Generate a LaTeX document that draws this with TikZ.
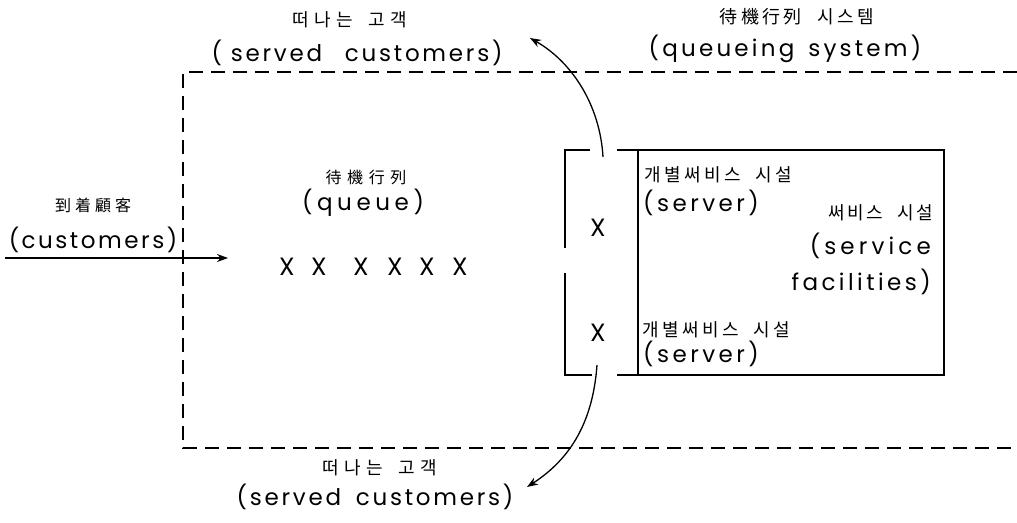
\documentclass[tikz,border=0pt]{standalone}
\usepackage{fontspec}
\setmainfont{Poppins}
\newfontfamily\kor{Noto Sans CJK KR}
\usetikzlibrary{arrows.meta, positioning}

\begin{document}
\begin{tikzpicture}[
  x=1pt, y=-1pt,
  >={Stealth[length=11pt, width=8pt]},
  en/.style={font=\fontsize{23}{27}\selectfont\addfontfeature{LetterSpace=#1},
             inner sep=1pt},
  en/.default=14,
  kr/.style={font=\kor\fontsize{18}{21}\selectfont\addfontfeature{LetterSpace=#1},
             inner sep=1pt},
  kr/.default=30,
  krs/.style={font=\kor\fontsize{16}{19}\selectfont\addfontfeature{LetterSpace=#1},
              inner sep=1pt},
  krs/.default=25,
  cust/.style={font=\fontsize{25}{27}\selectfont, inner sep=0pt},
  sysline/.style={line width=1.8pt, dash pattern=on 14pt off 8pt},
  boxline/.style={line width=1.6pt},
  flow/.style={->, line width=1.3pt},
]
\useasboundingbox (0,0) rectangle (1017,522);

% ====================== queueing system boundary =======================
\draw[sysline] (1017,72) -- (183,72) -- (183,448) -- (1017,448);
\node[kr=18] (syskr) at (797,17) {待機行列\hspace{0.9em}시스템};
\node[en] (syslbl) at (785,49) {(queueing\hspace{0.2em} system)};

% ====================== arrivals ========================================
\node[krs] (arrkr) at (93,205) {到着顧客};
\node[en=11] (arrlbl) at (93,240) {(customers)};
\coordinate (src) at (5,258);
\coordinate (qin) at (228,258);
\draw[flow] (src) -- (qin);

% ====================== queue ===========================================
\node[krs=35] (qkr) at (366,177) {待機行列};
\node[en=20] (qlbl) at (363,203) {(queue)};
\foreach \i/\x in {1/287,2/319,3/361,4/395,5/427,6/460}
  \node[cust] (q\i) at (\x,267) {X};

% ====================== service facilities ==============================
\draw[boxline] (590,150) -- (565,150) -- (565,248);
\draw[boxline] (565,273) -- (565,375) -- (592,375);
\draw[boxline] (617,150) -- (944,150) -- (944,375) -- (617,375);
\draw[boxline] (638,150) -- (638,375);
\node[cust] (srv1) at (598,228) {X};
\node[cust] (srv2) at (598,333) {X};
\node[kr=20, anchor=west] (s1kr) at (643,175) {개별써비스\hspace{0.8em}시설};
\node[en=15, anchor=west] (s1lbl) at (642,203) {(server)};
\node[kr=20, anchor=west] (s2kr) at (641,330) {개별써비스\hspace{0.8em}시설};
\node[en=15, anchor=west] (s2lbl) at (642,354) {(server)};
\node[kr=14, anchor=east] (fackr) at (934,213) {써비스\hspace{0.8em}시설};
\node[en=18, anchor=east] (fac1) at (932,246) {(service};
\node[en=15, anchor=east] (fac2) at (932,282) {facilities)};

% ====================== departures ======================================
\coordinate (out1) at (603,157);
\coordinate (dep1) at (530,38);
\draw[flow] (out1) .. controls (600,105) and (572,62) .. (dep1);
\node[kr=28] (topkr) at (350,20) {떠나는\hspace{0.9em}고객};
\node[en=12] (toplbl) at (357,53) {( served\hspace{0.6em} customers)};

\coordinate (out2) at (597,365);
\coordinate (dep2) at (527,487);
\draw[flow] (out2) .. controls (593,420) and (572,458) .. (dep2);
\node[kr=28] (botkr) at (380,468) {떠나는\hspace{0.9em}고객};
\node[en=12] (botlbl) at (375,497) {(served\hspace{0.25em} customers)};

\end{tikzpicture}
\end{document}
